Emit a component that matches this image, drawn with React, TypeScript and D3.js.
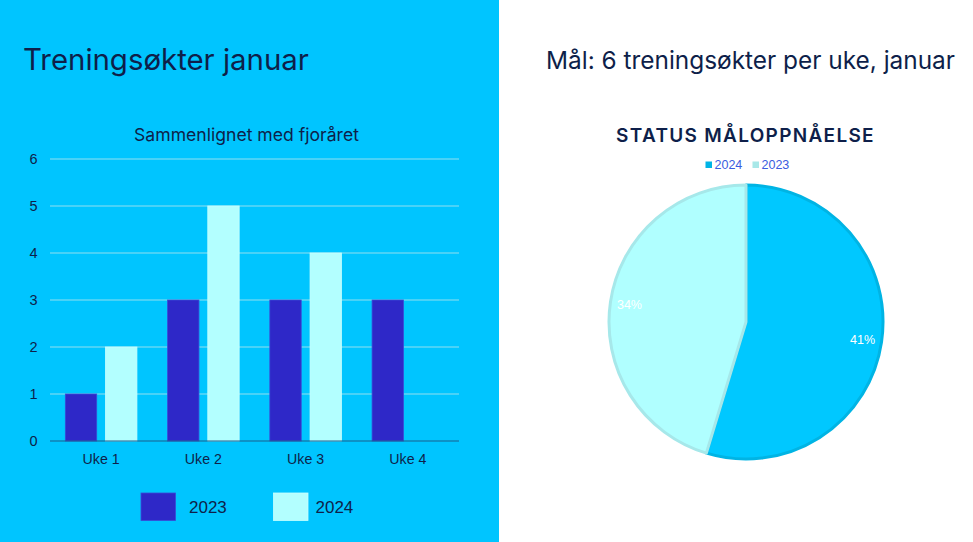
import React from "react";
import * as d3 from "d3";

const weeks = ["Uke 1", "Uke 2", "Uke 3", "Uke 4"];
const years = ["2023", "2024"];
const values2023 = [1, 3, 3, 3];
const values2024 = [2, 5, 4, 0];
const yTicks = [0, 1, 2, 3, 4, 5, 6];

const pieLabels = ["2024", "2023"];
const pieValues = [41, 34];

const W = 973;
const H = 542;
const NAVY = "#0e1f4a";
const BG = "#00c5ff";

export default function App() {
  const x0 = d3.scaleBand<string>().domain(weeks).range([50, 459]).paddingInner(0.3).paddingOuter(0.15);
  const x1 = d3.scaleBand<string>().domain(years).range([0, x0.bandwidth()]).paddingInner(0.22);
  const y = d3.scaleLinear().domain([0, 6]).range([441, 159]);
  const barColor = (k: string) => (k === "2023" ? "#2e28c8" : "#b3ffff");
  const series: Record<string, number[]> = { "2023": values2023, "2024": values2024 };

  const cx = 746, cy = 322, r = 137;
  const pie = d3.pie<number>().sort(null).value((d) => d)(pieValues);
  const arc = d3.arc<d3.PieArcDatum<number>>().innerRadius(0).outerRadius(r);
  const labelArc = d3.arc<d3.PieArcDatum<number>>().innerRadius(r * 0.86).outerRadius(r * 0.86);
  const pieFill = ["#00c8ff", "#b0ffff"];
  const pieStroke = ["#00b4e4", "#a6e8ea"];
  const legendSq = ["#00b4e6", "#a8e8e8"];
  const legendTextDx = [48, 42];

  return (
    <svg width={W} height={H} style={{ position: "absolute", left: 0, top: 0 }}>
      <rect x={0} y={0} width={W} height={H} fill="#ffffff" />
      <rect x={0} y={0} width={499} height={H} fill={BG} />

      <text x={23} y={70} fontFamily="Inter, 'Open Sans', sans-serif" fontSize={29.4} fill={NAVY}>
        Treningsøkter januar
      </text>
      <text x={246.5} y={141} textAnchor="middle" fontFamily="Inter, 'Open Sans', sans-serif" fontSize={17.6} fill={NAVY}>
        Sammenlignet med fjoråret
      </text>

      {yTicks.map((t) => (
        <g key={t}>
          {t > 0 && <line x1={50} x2={459} y1={y(t)} y2={y(t)} stroke="#62d6f4" strokeWidth={1.3} />}
          <text x={33.5} y={y(t)} dy="0.35em" textAnchor="middle" fontFamily="'Liberation Sans', Arial, sans-serif" fontSize={14.5} fill={NAVY}>
            {t}
          </text>
        </g>
      ))}

      {weeks.map((w, i) => (
        <g key={w} transform={`translate(${x0(w)},0)`}>
          {years.map((k) =>
            series[k][i] > 0 ? (
              <rect
                key={k}
                x={x1(k)}
                y={y(series[k][i])}
                width={x1.bandwidth()}
                height={y(0) - y(series[k][i])}
                fill={barColor(k)}
                stroke={k === "2023" ? "#3a4ad6" : "#c8ffff"}
                strokeWidth={0.8}
              />
            ) : null
          )}
          <text x={x0.bandwidth() / 2} y={459} dy="0.35em" textAnchor="middle" fontFamily="'Liberation Sans', Arial, sans-serif" fontSize={14.2} fill={NAVY}>
            {w}
          </text>
        </g>
      ))}
      <line x1={50} x2={459} y1={y(0)} y2={y(0)} stroke="#1b5f8c" strokeWidth={1.2} />

      {years.map((k, i) => (
        <g key={k} transform={`translate(${141 + i * 132.5},493)`}>
          <rect x={0} y={0} width={34.5} height={27.5} fill={barColor(k)} stroke={k === "2023" ? "#3a4ad6" : "#c8ffff"} strokeWidth={0.8} />
          <text x={legendTextDx[i]} y={14.5} dy="0.35em" fontFamily="'Liberation Sans', Arial, sans-serif" fontSize={17} fill={NAVY}>
            {k}
          </text>
        </g>
      ))}

      <text x={750.5} y={69} textAnchor="middle" fontFamily="Inter, 'Open Sans', sans-serif" fontSize={24.4} fill={NAVY}>
        Mål: 6 treningsøkter per uke, januar
      </text>
      <text x={745.5} y={141.5} textAnchor="middle" fontFamily="Inter, 'Open Sans', sans-serif" fontSize={19} fontWeight={600} letterSpacing={1.3} fill={NAVY}>
        STATUS MÅLOPPNÅELSE
      </text>

      {pieLabels.map((k, i) => (
        <g key={k} transform={`translate(${705.5 + i * 47},165)`}>
          <rect x={0} y={-3.5} width={6.5} height={6.5} fill={legendSq[i]} />
          <text x={9} y={0} dy="0.35em" fontFamily="'Liberation Sans', Arial, sans-serif" fontSize={12.5} fill="#3a5ce0">
            {k}
          </text>
        </g>
      ))}

      <g transform={`translate(${cx},${cy})`}>
        {pie.map((p, i) => (
          <path key={i} d={arc(p) || ""} fill={pieFill[i]} stroke={pieStroke[i]} strokeWidth={3} strokeLinejoin="round" />
        ))}
        {pie.map((p, i) => {
          const [lx, ly] = labelArc.centroid(p);
          return (
            <text key={i} x={lx} y={ly} dy="0.35em" textAnchor="middle" fontFamily="'Liberation Sans', Arial, sans-serif" fontSize={12.5} fill="#ffffff">
              {pieValues[i]}%
            </text>
          );
        })}
      </g>
    </svg>
  );
}
